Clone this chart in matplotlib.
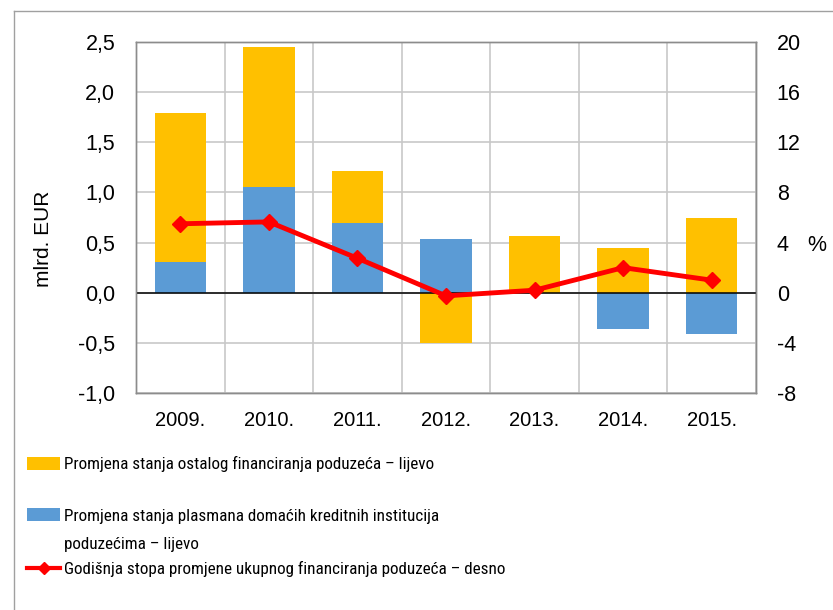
import matplotlib
matplotlib.use("Agg")
import matplotlib.pyplot as plt
from matplotlib import font_manager
from matplotlib.lines import Line2D
from matplotlib.patches import Patch
from matplotlib.ticker import FuncFormatter, MultipleLocator
import numpy as np

plt.rcParams["font.family"] = ["Liberation Sans", "DejaVu Sans"]
plt.rcParams["axes.unicode_minus"] = False

# ---------- 数据 ----------
years = ["2009.", "2010.", "2011.", "2012.", "2013.", "2014.", "2015."]
credit_inst = [0.31, 1.05, 0.70, 0.54, 0.00, -0.36, -0.41]   # plavo
other_fin = [1.48, 1.40, 0.51, -0.50, 0.57, 0.45, 0.75]      # žuto
growth_rate = [5.5, 5.65, 2.75, -0.25, 0.2, 2.0, 1.0]        # crveno, desno (%)

lbl_other = "Promjena stanja ostalog financiranja poduzeća – lijevo"
lbl_credit_1 = "Promjena stanja plasmana domaćih kreditnih institucija"
lbl_credit_2 = "poduzećima – lijevo"
lbl_rate = "Godišnja stopa promjene ukupnog financiranja poduzeća – desno"

YELLOW = "#FFC000"
BLUE = "#5B9BD5"
RED = "#FF0000"
GRID = "#C8C8C8"
FRAME = "#8C8C8C"


# uski font za legendu, ako postoji
def pick_narrow():
    names = {f.name: f for f in font_manager.fontManager.ttflist}
    for n in ["Liberation Sans Narrow", "Arial Narrow"]:
        if n in names:
            return {"family": [n, "DejaVu Sans"], "size": 13.5}
    for n in ["Roboto Condensed", "Open Sans Condensed", "Noto Sans Condensed", "DejaVu Sans Condensed"]:
        if n in names:
            return {"family": [n, "DejaVu Sans"], "size": 12.3}
    for f in font_manager.fontManager.ttflist:
        if f.name in ("DejaVu Sans", "Noto Sans", "Roboto", "Open Sans") and \
                str(f.stretch) in ("condensed", "semi-condensed", "75", "87") and f.weight in (400, "normal"):
            return {"family": [f.name, "DejaVu Sans"], "stretch": f.stretch, "size": 11.5}
    return {"family": ["Liberation Sans", "DejaVu Sans"], "size": 12}


leg_font = pick_narrow()

W, H = 833, 610
fig = plt.figure(figsize=(W / 100, H / 100), dpi=100)
ax = fig.add_axes([136 / W, 1 - 393 / H, 620 / W, 351 / H])
ax2 = ax.twinx()

x = np.arange(len(years))
blue = np.array(credit_inst)
yel = np.array(other_fin)
yel_bottom = np.where(np.sign(blue) == np.sign(yel), blue, 0.0)

ax.bar(x, blue, width=0.58, color=BLUE, zorder=3)
ax.bar(x, yel, width=0.58, bottom=yel_bottom, color=YELLOW, zorder=3)
ax.axhline(0, color="black", lw=1.1, zorder=4)

ax.set_xlim(-0.5, len(years) - 0.5)
ax.set_ylim(-1.0, 2.5)
ax.yaxis.set_major_locator(MultipleLocator(0.5))
ax.yaxis.set_major_formatter(FuncFormatter(lambda v, p: f"{v:.1f}".replace(".", ",")))
ax.set_xticks(x)
ax.set_xticklabels(years)
ax.set_xticks(np.arange(-0.5, len(years), 1.0), minor=True)
ax.grid(True, which="minor", axis="x", color=GRID, lw=1.2, zorder=0)
ax.grid(True, which="major", axis="y", color=GRID, lw=1.2, zorder=0)
ax.tick_params(axis="x", which="both", length=0, labelsize=14.5, pad=13)
ax.tick_params(axis="y", length=0, labelsize=15.5, pad=15)
ax.set_ylabel("mlrd. EUR", fontsize=15)
ax.yaxis.set_label_coords(-0.134, 0.44)

ax2.plot(x, growth_rate, color=RED, lw=3.5, marker="D", markersize=8.5, zorder=5)
ax2.set_ylim(-8, 20)
ax2.set_yticks(np.arange(-8, 21, 4))
ax2.tick_params(axis="y", length=0, labelsize=15.5, pad=15)
ax2.text(1.098, 0.42, "%", transform=ax.transAxes, fontsize=15.5, ha="center", va="center")

for a in (ax, ax2):
    for s in a.spines.values():
        s.set_color(FRAME)
        s.set_linewidth(1.0)

ax.set_zorder(1)
ax2.set_zorder(2)
ax2.patch.set_visible(False)

# ---------- legenda ----------
handles = [
    (Patch(facecolor=YELLOW), lbl_other, 464),
    (Patch(facecolor=BLUE), lbl_credit_1, 516),
    (Line2D([], [], color=RED, lw=3, marker="D", markersize=6), lbl_rate, 569),
]
hl = 33 * 72 / 100 / leg_font["size"]
for h, lbl, yp in handles:
    fig.legend([h], [lbl], loc="center left", bbox_to_anchor=(27 / W, 1 - yp / H),
               frameon=False, prop=leg_font, handlelength=hl, handleheight=0.8,
               handletextpad=0.25, borderpad=0, borderaxespad=0)
fig.text(64 / W, 1 - 545 / H, lbl_credit_2, fontdict=leg_font, va="center", ha="left")

# okvir slike
fig.add_artist(Line2D([14 / W, 14 / W], [0, 1 - 11 / H], color="#A0A0A0", lw=1.0))
fig.add_artist(Line2D([14 / W, 1], [1 - 11 / H, 1 - 11 / H], color="#A0A0A0", lw=1.0))

fig.savefig("out.png", dpi=100)
